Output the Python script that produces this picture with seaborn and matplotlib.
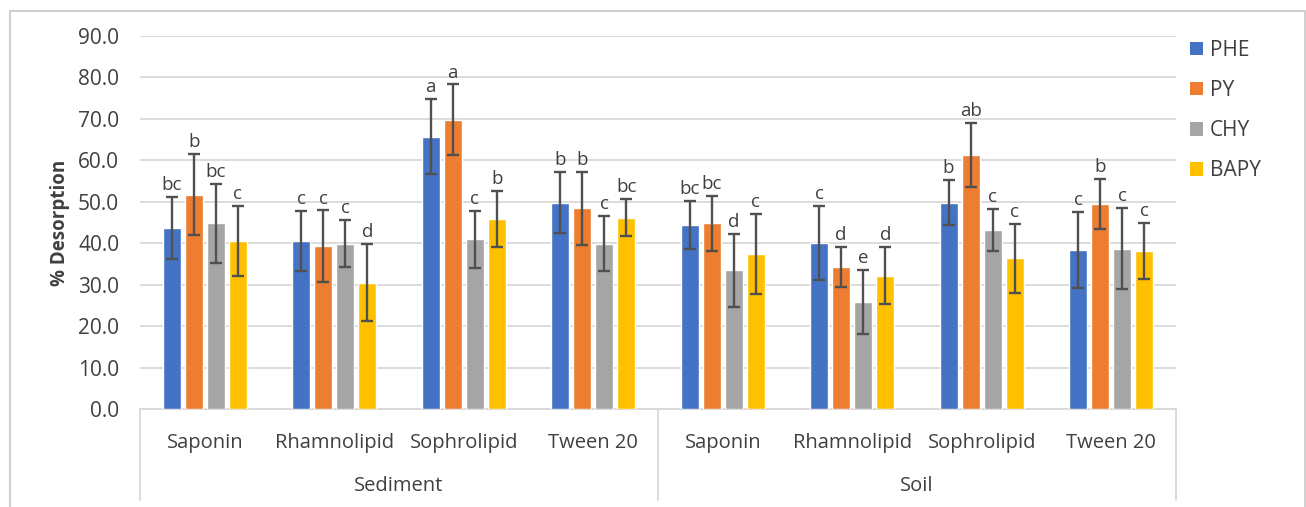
import matplotlib
matplotlib.use("Agg")
import matplotlib.pyplot as plt
import matplotlib.transforms as mtransforms
from matplotlib.patches import Rectangle, Patch
from matplotlib.lines import Line2D
import numpy as np
import pandas as pd
import seaborn as sns

# ---- data ----
matrices = ["Sediment", "Soil"]
surfactants = ["Saponin", "Rhamnolipid", "Sophrolipid", "Tween 20"]
pahs = ["PHE", "PY", "CHY", "BAPY"]

# mean % desorption: Sediment (4 surfactants) followed by Soil (4 surfactants)
phe = [43.7, 40.5, 65.7, 49.8, 44.5, 40.1, 49.8, 38.4]
py = [51.7, 39.3, 69.8, 48.4, 44.8, 34.3, 61.3, 49.5]
chy = [44.8, 39.9, 40.9, 39.9, 33.5, 25.8, 43.2, 38.7]
bapy = [40.5, 30.5, 45.8, 46.2, 37.4, 32.2, 36.4, 38.1]

# standard deviations
phe_sd = [7.4, 7.2, 9.0, 7.3, 5.8, 9.0, 5.5, 9.1]
py_sd = [9.8, 8.6, 8.5, 8.8, 6.6, 4.9, 7.7, 6.0]
chy_sd = [9.6, 5.7, 6.8, 6.7, 8.8, 7.7, 5.1, 9.7]
bapy_sd = [8.4, 9.3, 6.8, 4.4, 9.7, 6.8, 8.3, 6.8]

# significance letters
phe_sig = ["bc", "c", "a", "b", "bc", "c", "b", "c"]
py_sig = ["b", "c", "a", "b", "bc", "d", "ab", "b"]
chy_sig = ["bc", "c", "c", "c", "d", "e", "c", "c"]
bapy_sig = ["c", "d", "b", "bc", "c", "d", "c", "c"]

colors = ["#4472C4", "#ED7D31", "#A5A5A5", "#FFC000"]

# ---- long-form table ----
slots = [f"{m} {s}" for m in matrices for s in surfactants]
means = {"PHE": phe, "PY": py, "CHY": chy, "BAPY": bapy}
sds = {"PHE": phe_sd, "PY": py_sd, "CHY": chy_sd, "BAPY": bapy_sd}
sigs = {"PHE": phe_sig, "PY": py_sig, "CHY": chy_sig, "BAPY": bapy_sig}
rows = []
for p in pahs:
    for i, slot in enumerate(slots):
        rows.append({"slot": slot, "pah": p, "value": means[p][i]})
df = pd.DataFrame(rows)

# ---- style ----
sns.set_theme(style="white")
plt.rcParams["font.family"] = ["Open Sans", "DejaVu Sans"]
txt = "#404040"
grid_c = "#D9D9D9"

fig = plt.figure(figsize=(13.06, 5.07), dpi=100)
W, H = 1306, 507
ax = fig.add_axes([140 / W, 1 - 409 / H, 1036 / W, 373 / H])

sns.barplot(data=df, x="slot", y="value", hue="pah", order=slots,
            hue_order=pahs, palette=colors, width=0.684, gap=0.19,
            errorbar=None, saturation=1, legend=False, ax=ax, zorder=3)

# error bars and letters placed on the drawn bars
for cont, p in zip(ax.containers, pahs):
    xs = [b.get_x() + b.get_width() / 2 for b in cont]
    ys = [b.get_height() for b in cont]
    ax.errorbar(xs, ys, yerr=sds[p], fmt="none", ecolor="#505050",
                elinewidth=1.7, capsize=4, capthick=1.7, zorder=4)
    for x, y, e, s in zip(xs, ys, sds[p], sigs[p]):
        ax.annotate(s, (x, y + e), xytext=(0, 5), textcoords="offset points",
                    ha="center", va="baseline", fontsize=13.5, color=txt)

ax.set_xlim(-0.5, 7.5)
ax.set_ylim(0, 90)
ax.set_yticks(np.arange(0, 91, 10))
ax.set_yticklabels([f"{v:.1f}" for v in np.arange(0, 91, 10)],
                   fontsize=15, color=txt)
ax.yaxis.grid(True, color=grid_c, lw=1.3, zorder=0)
ax.set_axisbelow(True)
ax.tick_params(axis="y", length=0, pad=15)
ax.set_ylabel("% Desorption", fontsize=13.5, fontweight="bold", color=txt,
              labelpad=6)

ax.set_xticks(range(len(slots)))
ax.set_xticklabels(surfactants * 2, fontsize=14.5, color=txt)
ax.tick_params(axis="x", length=0, pad=17)
ax.set_xlabel("")

for side in ["top", "right", "left"]:
    ax.spines[side].set_visible(False)
ax.spines["bottom"].set_color(grid_c)
ax.spines["bottom"].set_linewidth(1.3)

# two-level category box under the axis
trans = mtransforms.blended_transform_factory(ax.transData, ax.transAxes)
for xv in [-0.5, 3.5, 7.5]:
    ax.add_line(Line2D([xv, xv], [0, -91 / 373], transform=trans,
                       color=grid_c, lw=1.3, clip_on=False))
for k, m in enumerate(matrices):
    ax.text(1.5 + 4 * k, -77 / 373, m, transform=trans, ha="center",
            va="center", fontsize=14.5, color=txt)

# legend
handles = [Patch(facecolor=c, edgecolor="none", label=p)
           for c, p in zip(colors, pahs)]
fig.legend(handles=handles, loc="upper left",
           bbox_to_anchor=(1171 / W, 1 - 21 / H), frameon=False,
           fontsize=15, handlelength=0.62, handleheight=0.62,
           handletextpad=0.35, labelspacing=0.92, labelcolor=txt)

# outer chart frame
fig.patches.append(Rectangle((10 / W, -0.05), 1295 / W, 1.05 - 11 / H,
                             transform=fig.transFigure, fill=False,
                             edgecolor="#D0D0D0", lw=1.5))

fig.savefig("out.png", dpi=100)
